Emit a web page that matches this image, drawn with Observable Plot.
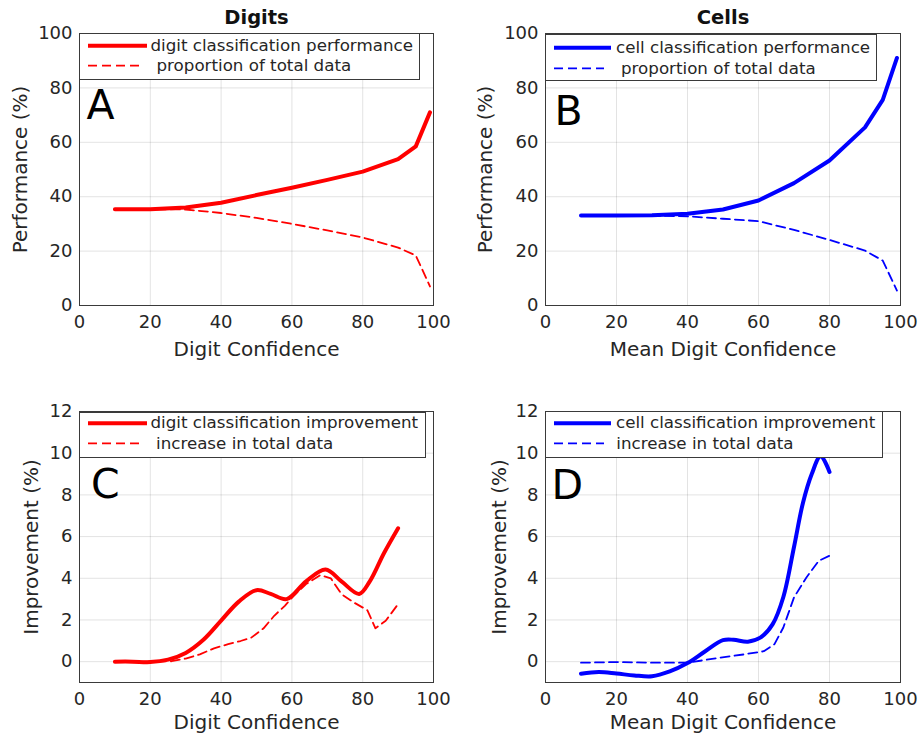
<!DOCTYPE html>
<html><head><meta charset="utf-8">
<script src="https://cdn.jsdelivr.net/npm/d3@7"></script>
<script src="https://cdn.jsdelivr.net/npm/@observablehq/plot@0.6"></script>
<style>
body{margin:0;background:#fff;}
#root{position:relative;width:918px;height:733px;overflow:hidden;background:#fff;font-family:"DejaVu Sans",sans-serif;}
</style></head><body><div id="root"></div>
<script>
// ---- tick labels ----
const xTicks = [0, 20, 40, 60, 80, 100];
const perfTicks = [0, 20, 40, 60, 80, 100];
const impTicks = [0, 2, 4, 6, 8, 10, 12];

// ---- Panel A (Digits) ----
const confA = [10, 20, 30, 40, 50, 60, 70, 80, 90, 95, 99];
const perfA = [35.4, 35.4, 36.0, 37.8, 40.6, 43.3, 46.2, 49.2, 53.8, 58.5, 71.0];
const propA = [35.4, 35.4, 35.3, 34.0, 32.2, 30.0, 27.6, 25.0, 21.3, 18.4, 7.0];

// ---- Panel B (Cells) ----
const confB = [10, 20, 30, 40, 50, 60, 70, 80, 90, 95, 99];
const perfB = [33.1, 33.1, 33.2, 33.7, 35.3, 38.6, 45.0, 53.3, 65.5, 75.6, 91.0];
const propB = [33.1, 33.1, 33.0, 32.8, 31.9, 31.0, 27.8, 24.1, 20.2, 16.5, 5.5];

// ---- Panel C (Digits improvement) ----
const impCx = [10, 15, 20, 25, 30, 35, 40, 45, 50, 54, 58.5, 64, 69.5, 74, 79, 82, 86, 90];
const impCy = [0, 0, -0.02, 0.1, 0.42, 1.05, 1.97, 2.88, 3.43, 3.25, 3.0, 3.85, 4.42, 3.85, 3.25, 3.85, 5.2, 6.4];
const incCx = [10, 20, 26, 30, 34, 38, 42, 45.5, 48.5, 52, 55, 58, 60.5, 64, 68, 71, 74, 77.5, 81.3, 83.6, 86.5, 90];
const incCy = [0, 0, 0.02, 0.15, 0.35, 0.64, 0.84, 0.99, 1.15, 1.6, 2.2, 2.68, 3.16, 3.72, 4.15, 4.0, 3.24, 2.84, 2.47, 1.6, 1.96, 2.76];

// ---- Panel D (Cells improvement) ----
const impDx = [10, 15, 20, 25, 30, 35, 40, 45, 50, 53, 57, 60.5, 64, 67, 70, 72.5, 75, 77.5, 80];
const impDy = [-0.58, -0.5, -0.57, -0.66, -0.7, -0.47, -0.07, 0.5, 1.03, 1.05, 0.96, 1.15, 1.8, 3.1, 5.5, 7.6, 9.0, 9.85, 9.1];
const incDx = [10, 20, 30, 40, 48, 56, 61.5, 64.5, 67, 70, 73.5, 77, 80];
const incDy = [-0.05, -0.02, -0.05, -0.05, 0.16, 0.35, 0.5, 0.84, 1.64, 3.08, 4.04, 4.84, 5.08];

const RED = "#ff0000", BLUE = "#0000ff", INK = "#262626";
const rows = (xs, ys) => xs.map((x, i) => ({x, y: ys[i]}));
const root = document.getElementById("root");

function panel(c) {
  const p = Plot.plot({
    width: c.w, height: c.h,
    marginLeft: c.ml, marginRight: c.mr, marginTop: c.mt, marginBottom: c.mb,
    style: {fontFamily: "DejaVu Sans", fontSize: "18px", color: INK, background: "white", overflow: "visible"},
    x: {domain: [0, 100], ticks: xTicks, tickSize: 0, tickPadding: 10, label: null},
    y: {domain: c.yDomain, ticks: c.yTicks, tickSize: 0, tickPadding: 7, label: null},
    marks: [
      Plot.gridX(xTicks, {stroke: INK, strokeOpacity: 0.13, strokeWidth: 1}),
      Plot.gridY(c.yTicks, {stroke: INK, strokeOpacity: 0.13, strokeWidth: 1}),
      Plot.line(c.solid, {x: "x", y: "y", stroke: c.color, strokeWidth: 4, curve: c.curveSolid}),
      Plot.line(c.dashed, {x: "x", y: "y", stroke: c.color, strokeWidth: 1.8, strokeDasharray: "9,5", curve: c.curveDashed}),
      Plot.frame({stroke: "#3a3a3a", strokeWidth: 1}),
      c.title ? Plot.text([c.title], {text: d => d, frameAnchor: "top", dy: -10, textAnchor: "middle", lineAnchor: "bottom", fontWeight: "bold", fontSize: 19.5, fill: "#111"}) : null,
      Plot.text([c.xLabel], {text: d => d, frameAnchor: "bottom", dy: c.xLabelDy, textAnchor: "middle", lineAnchor: "bottom", fontSize: 20}),
      Plot.text([c.yLabel], {text: d => d, frameAnchor: "left", dx: c.yLabelDx, rotate: -90, textAnchor: "middle", lineAnchor: "bottom", fontSize: 20}),
      Plot.text([c.letter], {text: d => d, frameAnchor: "top-left", dx: c.letterDx, dy: c.letterDy, textAnchor: "start", lineAnchor: "bottom", fontSize: 41, fill: "black"})
    ]
  });
  p.style.position = "absolute";
  p.style.left = c.left + "px";
  p.style.top = c.top + "px";
  root.append(p);

  // legend box (drawn over the plot)
  const L = c.legend;
  const svg = d3.create("svg").attr("width", L.w).attr("height", L.h)
    .style("position", "absolute").style("left", L.x + "px").style("top", L.y + "px")
    .style("font-family", "DejaVu Sans").style("font-size", "16.7px");
  svg.append("rect").attr("x", 0.5).attr("y", 0.5).attr("width", L.w - 1).attr("height", L.h - 1)
    .attr("fill", "white").attr("stroke", "#3a3a3a").attr("stroke-width", 1);
  svg.append("line").attr("x1", L.sx1).attr("x2", L.sx2).attr("y1", L.r1).attr("y2", L.r1)
    .attr("stroke", c.color).attr("stroke-width", 4);
  svg.append("line").attr("x1", L.sx1).attr("x2", L.sx2d).attr("y1", L.r2).attr("y2", L.r2)
    .attr("stroke", c.color).attr("stroke-width", 1.8).attr("stroke-dasharray", "9,5");
  svg.append("text").attr("x", L.t1).attr("y", L.r1 + 4.8).attr("fill", INK).text(c.leg1);
  svg.append("text").attr("x", L.t2).attr("y", L.r2 + 5.5).attr("fill", INK).text(c.leg2);
  root.append(svg.node());
}

panel({left: 0, top: 0, w: 459, h: 367, ml: 79, mr: 26, mt: 33, mb: 62,
  yDomain: [0, 100], yTicks: perfTicks, color: RED,
  solid: rows(confA, perfA), dashed: rows(confA, propA), curveSolid: "linear", curveDashed: "linear",
  title: "Digits", xLabel: "Digit Confidence", yLabel: "Performance (%)",
  xLabelDy: 50, yLabelDx: -52.5, letter: "A", letterDx: 7, letterDy: 85,
  leg1: "digit classification performance", leg2: "proportion of total data",
  legend: {x: 79, y: 33, w: 341, h: 47, sx1: 9, sx2: 68, sx2d: 61, r1: 12.7, r2: 32.7, t1: 71.5, t2: 77.5}});

panel({left: 459, top: 0, w: 459, h: 367, ml: 86, mr: 18, mt: 33, mb: 62,
  yDomain: [0, 100], yTicks: perfTicks, color: BLUE,
  solid: rows(confB, perfB), dashed: rows(confB, propB), curveSolid: "linear", curveDashed: "linear",
  title: "Cells", xLabel: "Mean Digit Confidence", yLabel: "Performance (%)",
  xLabelDy: 50, yLabelDx: -53.5, letter: "B", letterDx: 9, letterDy: 91,
  leg1: "cell classification performance", leg2: "proportion of total data",
  legend: {x: 545, y: 34, w: 332, h: 47, sx1: 9, sx2: 66, sx2d: 59, r1: 13.7, r2: 34.3, t1: 71, t2: 76}});

panel({left: 0, top: 367, w: 459, h: 366, ml: 79, mr: 26, mt: 44, mb: 51,
  yDomain: [-1, 12], yTicks: impTicks, color: RED,
  solid: rows(impCx, impCy), dashed: rows(incCx, incCy), curveSolid: "catmull-rom", curveDashed: "linear",
  title: null, xLabel: "Digit Confidence", yLabel: "Improvement (%)",
  xLabelDy: 46.5, yLabelDx: -41.5, letter: "C", letterDx: 11.5, letterDy: 86.5,
  leg1: "digit classification improvement", leg2: "increase in total data",
  legend: {x: 79, y: 412, w: 347, h: 46, sx1: 9, sx2: 68, sx2d: 61, r1: 11.3, r2: 31.3, t1: 71.5, t2: 77}});

panel({left: 459, top: 367, w: 459, h: 366, ml: 86, mr: 18, mt: 44, mb: 51,
  yDomain: [-1, 12], yTicks: impTicks, color: BLUE,
  solid: rows(impDx, impDy), dashed: rows(incDx, incDy), curveSolid: "catmull-rom", curveDashed: "linear",
  title: null, xLabel: "Mean Digit Confidence", yLabel: "Improvement (%)",
  xLabelDy: 46.5, yLabelDx: -40, letter: "D", letterDx: 6, letterDy: 87,
  leg1: "cell classification improvement", leg2: "increase in total data",
  legend: {x: 545, y: 411, w: 338, h: 47, sx1: 9, sx2: 66, sx2d: 59, r1: 12.3, r2: 32.3, t1: 71, t2: 71.3}});
</script></body></html>
